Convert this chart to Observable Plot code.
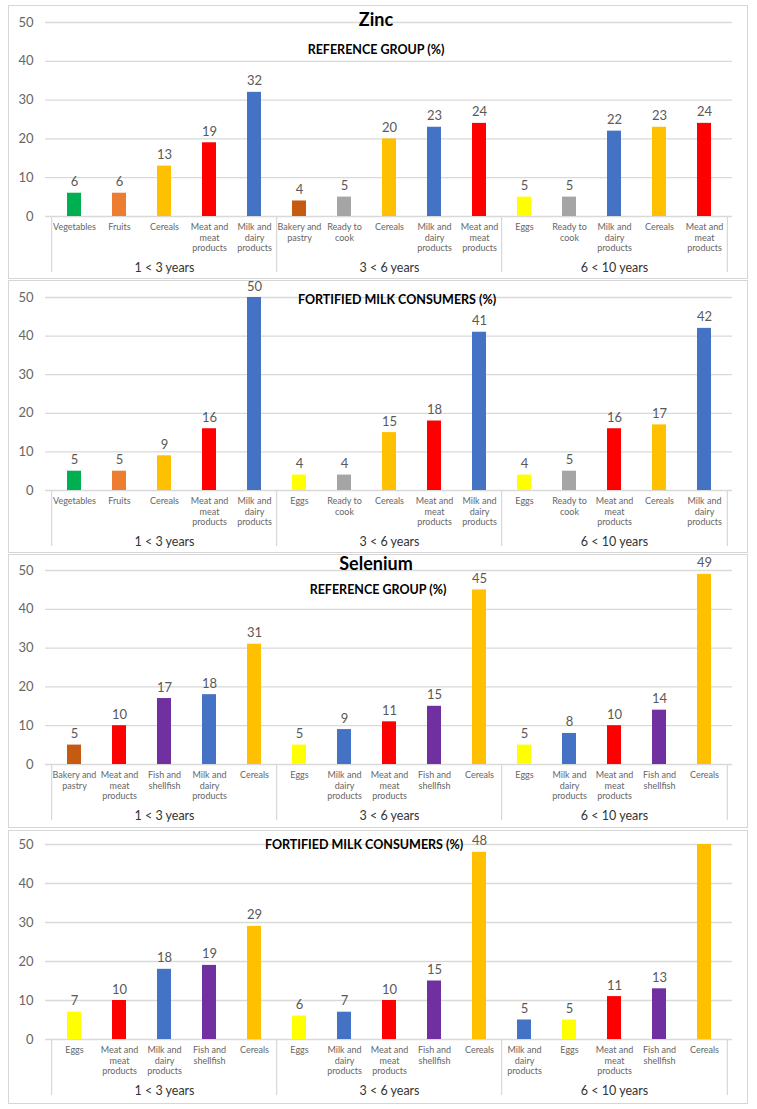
<!DOCTYPE html>
<html><head><meta charset="utf-8">
<script src="https://cdn.jsdelivr.net/npm/d3@7"></script>
<script src="https://cdn.jsdelivr.net/npm/@observablehq/plot@0.6"></script>
<style>
body{margin:0;background:#fff;font-family:Lato,sans-serif;}
.panel{position:absolute;left:8px;width:740px;background:#fff}
.panel svg{display:block;position:absolute;left:0;top:0}
.frame{position:absolute;left:0;top:0;right:0;bottom:0;border:1.5px solid #d6d6d6;pointer-events:none}
</style></head><body>
<div id="root"></div>
<script>
// ---- data ----
const groups = ["1 < 3 years", "3 < 6 years", "6 < 10 years"];
const yTicks = [0, 10, 20, 30, 40, 50];

const zincRefCats = [
  ["Vegetables", "Fruits", "Cereals", "Meat and meat products", "Milk and dairy products"],
  ["Bakery and pastry", "Ready to cook", "Cereals", "Milk and dairy products", "Meat and meat products"],
  ["Eggs", "Ready to cook", "Milk and dairy products", "Cereals", "Meat and meat products"]
];
const zincRefValues = [[6, 6, 13, 19, 32], [4, 5, 20, 23, 24], [5, 5, 22, 23, 24]];

const zincFortCats = [
  ["Vegetables", "Fruits", "Cereals", "Meat and meat products", "Milk and dairy products"],
  ["Eggs", "Ready to cook", "Cereals", "Meat and meat products", "Milk and dairy products"],
  ["Eggs", "Ready to cook", "Meat and meat products", "Cereals", "Milk and dairy products"]
];
const zincFortValues = [[5, 5, 9, 16, 50], [4, 4, 15, 18, 41], [4, 5, 16, 17, 42]];

const seRefCats = [
  ["Bakery and pastry", "Meat and meat products", "Fish and shellfish", "Milk and dairy products", "Cereals"],
  ["Eggs", "Milk and dairy products", "Meat and meat products", "Fish and shellfish", "Cereals"],
  ["Eggs", "Milk and dairy products", "Meat and meat products", "Fish and shellfish", "Cereals"]
];
const seRefValues = [[5, 10, 17, 18, 31], [5, 9, 11, 15, 45], [5, 8, 10, 14, 49]];

const seFortCats = [
  ["Eggs", "Meat and meat products", "Milk and dairy products", "Fish and shellfish", "Cereals"],
  ["Eggs", "Milk and dairy products", "Meat and meat products", "Fish and shellfish", "Cereals"],
  ["Milk and dairy products", "Eggs", "Meat and meat products", "Fish and shellfish", "Cereals"]
];
const seFortValues = [[7, 10, 18, 19, 29], [6, 7, 10, 15, 48], [5, 5, 11, 13, 50]];
// value labels not printed in the reference (bar runs off the top)
const seFortHiddenLabels = [[2, 4]];

const catColors = {
  "Vegetables": "#00B050",
  "Fruits": "#ED7D31",
  "Cereals": "#FFC000",
  "Meat and meat products": "#FF0000",
  "Milk and dairy products": "#4472C4",
  "Bakery and pastry": "#C55A11",
  "Ready to cook": "#A5A5A5",
  "Eggs": "#FFFF00",
  "Fish and shellfish": "#7030A0"
};
const catLabels = {
  "Vegetables": "Vegetables",
  "Fruits": "Fruits",
  "Cereals": "Cereals",
  "Meat and meat products": "Meat and\nmeat\nproducts",
  "Milk and dairy products": "Milk and\ndairy\nproducts",
  "Bakery and pastry": "Bakery and\npastry",
  "Ready to cook": "Ready to\ncook",
  "Eggs": "Eggs",
  "Fish and shellfish": "Fish and\nshellfish"
};

const panels = [
  {cats: zincRefCats, values: zincRefValues, hidden: [], title: "Zinc", tdx: -13, tdy: -2,
   sub: "REFERENCE GROUP (%)", sdx: -13, sdy: 27, top: 5, H: 274, mt: 17, ph: 194},
  {cats: zincFortCats, values: zincFortValues, hidden: [], title: null,
   sub: "FORTIFIED MILK CONSUMERS (%)", sdx: 8, sdy: 2, top: 280, H: 273, mt: 17, ph: 193},
  {cats: seRefCats, values: seRefValues, hidden: [], title: "Selenium", tdx: -13, tdy: -6,
   sub: "REFERENCE GROUP (%)", sdx: -11, sdy: 19, top: 554, H: 274, mt: 16, ph: 194},
  {cats: seFortCats, values: seFortValues, hidden: seFortHiddenLabels, title: null,
   sub: "FORTIFIED MILK CONSUMERS (%)", sdx: -25, sdy: 0, top: 830, H: 274, mt: 14, ph: 195}
];

const W = 740, ML = 37, MR = 16;
const step = (W - ML - MR) / 15;

function makePanel(p) {
  const rows = [];
  p.cats.forEach((cats, g) => cats.forEach((c, j) => rows.push({
    key: `${g}-${j}`, g, j, group: groups[g], cat: c, value: p.values[g][j],
    showLabel: !p.hidden.some(([hg, hj]) => hg === g && hj === j)
  })));
  const marks = [
    Plot.gridY(yTicks, {stroke: "#d9d9d9", strokeOpacity: 1, strokeWidth: 1.3}),
    Plot.axisY(yTicks, {tickSize: 0, tickPadding: 12, fontSize: 13, fill: "#666", label: null}),
    Plot.barY(rows, {x: "key", y: "value", fill: d => catColors[d.cat]}),
    Plot.text(rows.filter(d => d.showLabel), {x: "key", y: "value", text: d => String(d.value),
      lineAnchor: "bottom", dy: -7, fontSize: 13, fill: "#595959"}),
    Plot.text(rows, {x: "key", y: 0, text: d => catLabels[d.cat], lineAnchor: "top", dy: 6,
      fontSize: 9, lineHeight: 1.18, fill: "#666"}),
    Plot.text(rows.filter(d => d.j === 2), {x: "key", y: 0, text: "group", lineAnchor: "middle",
      dy: 51, fontSize: 12.5, fill: "#333"}),
    Plot.ruleX(rows.filter(d => d.j === 0), {x: "key", dx: -step / 2, insetTop: p.ph, insetBottom: -56,
      stroke: "#d9d9d9", strokeWidth: 1.3}),
    Plot.ruleX(rows.filter(d => d.g === 2 && d.j === 4), {x: "key", dx: step / 2, insetTop: p.ph, insetBottom: -56,
      stroke: "#d9d9d9", strokeWidth: 1.3}),
    Plot.text([p.sub], {frameAnchor: "top", text: d => d, dx: p.sdx, dy: p.sdy, lineAnchor: "middle",
      fontSize: 12.5, fontWeight: "bold", fill: "#000"})
  ];
  if (p.title) marks.push(Plot.text([p.title], {frameAnchor: "top", text: d => d, dx: p.tdx, dy: p.tdy,
    lineAnchor: "middle", fontSize: 18, fontWeight: "bold", fill: "#000"}));
  return Plot.plot({
    width: W, height: p.H, marginTop: p.mt, marginBottom: p.H - p.mt - p.ph, marginLeft: ML, marginRight: MR,
    style: {background: "transparent", fontFamily: "Lato, sans-serif", overflow: "visible"},
    x: {domain: rows.map(d => d.key), paddingInner: 0.7, paddingOuter: 0.35, axis: null},
    y: {domain: [0, 50], axis: null},
    marks
  });
}

const root = document.getElementById("root");
panels.forEach(p => {
  const div = document.createElement("div");
  div.className = "panel";
  div.style.top = p.top + "px";
  div.style.height = p.H + "px";
  div.appendChild(makePanel(p));
  const f = document.createElement("div");
  f.className = "frame";
  div.appendChild(f);
  root.appendChild(div);
});
</script>
</body></html>
